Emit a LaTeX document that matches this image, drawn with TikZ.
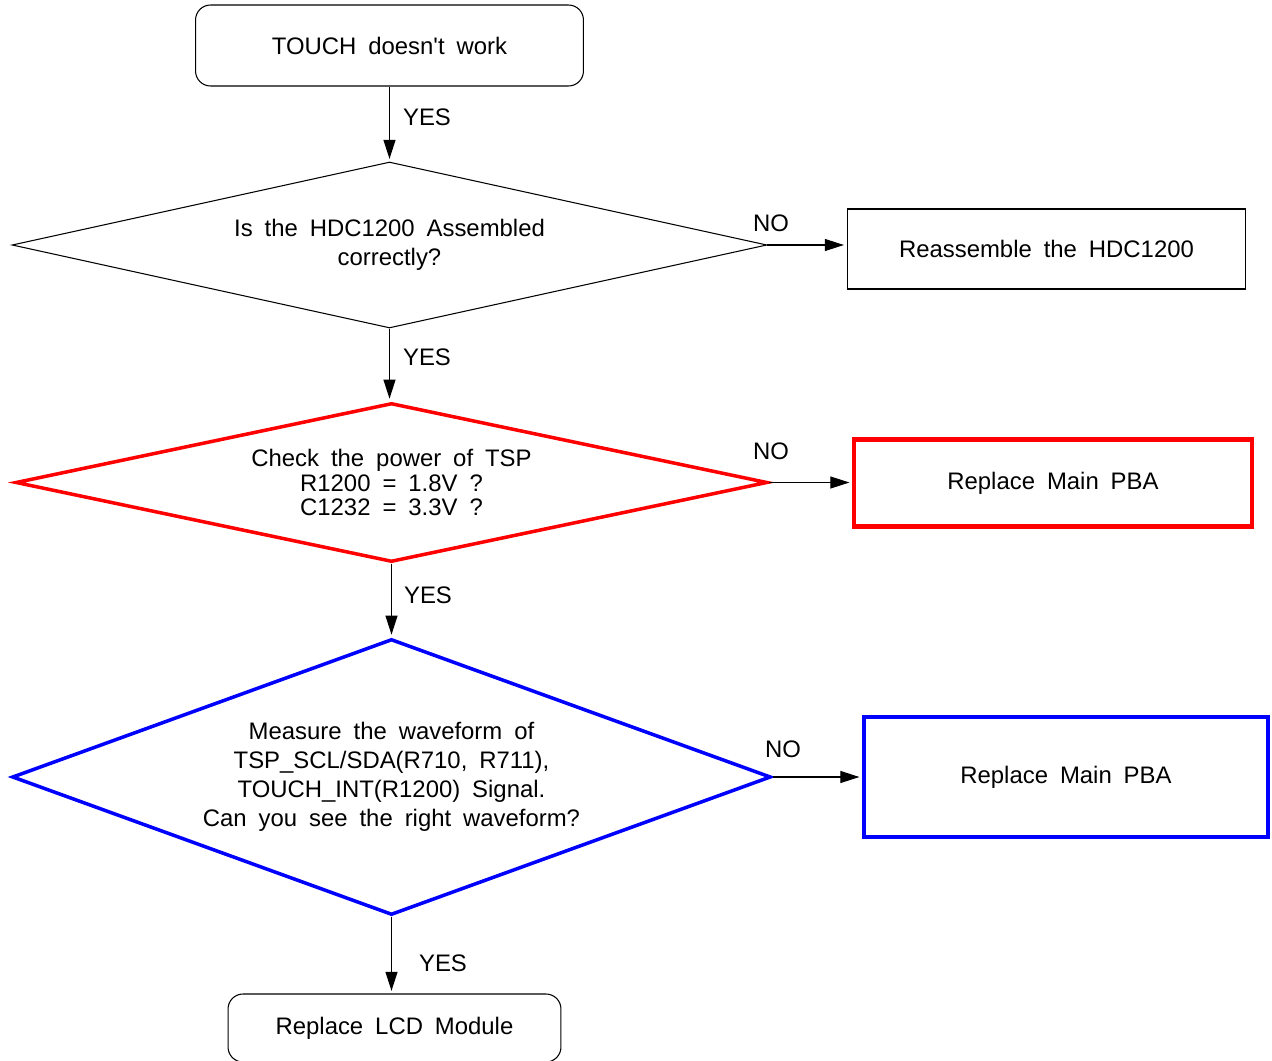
\documentclass[tikz,border=0pt]{standalone}
\usepackage{fontspec}
\setmainfont{Liberation Sans}[WordSpace=1.8]
\usetikzlibrary{arrows.meta,shapes.geometric}

\begin{document}
\begin{tikzpicture}[x=0.02cm,y=-0.02cm,>={Triangle[length=0.38cm,width=0.24cm]},
  font=\fontsize{13.6pt}{16.5pt}\selectfont,
  term/.style={draw,rounded corners=0.3cm,line width=0.6pt,inner sep=0pt},
  dec/.style={diamond,draw,align=center,inner sep=0pt,line width=0.6pt},
  act/.style={draw,inner sep=0pt,line width=0.6pt},
  ar/.style={->,line width=0.6pt,shorten >=1.5pt},
  lbl/.style={inner sep=0pt}]
\useasboundingbox (0,0) rectangle (1272,1061);
% main column
\node[term,minimum width=7.76cm,minimum height=1.62cm] (start) at (389.5,45.5) {TOUCH doesn\textquotesingle t work};
\node[dec,aspect=4.55,minimum width=15.1cm,minimum height=3.32cm] (hdc) at (389.5,245) {Is the HDC1200 Assembled\\correctly?};
\node[dec,draw=red,line width=2pt,aspect=4.73,minimum width=15.04cm,minimum height=3.18cm,
  font=\fontsize{13.6pt}{14pt}\selectfont] (pwr) at (391.5,482.5) {Check the power of TSP\\R1200 = 1.8V ?\\C1232 = 3.3V ?};
\node[dec,draw=blue,line width=2pt,aspect=2.75,minimum width=15.18cm,minimum height=5.52cm] (wave) at (391.5,777)
  {Measure the waveform of\\TSP\_SCL/SDA(R710, R711),\\TOUCH\_INT(R1200) Signal.\\Can you see the right waveform?};
\node[term,minimum width=6.66cm,minimum height=1.36cm] (lcd) at (394.5,1028) {Replace LCD Module};
% right column
\node[act,minimum width=7.98cm,minimum height=1.6cm] (reasm) at (1046.5,249) {Reassemble the HDC1200};
\node[act,draw=red,line width=2.3pt,minimum width=7.96cm,minimum height=1.74cm] (rpba) at (1053,483) {Replace Main PBA};
\node[act,draw=blue,line width=2.3pt,minimum width=8.08cm,minimum height=2.4cm] (bpba) at (1066,777) {Replace Main PBA};
% connectors
\draw[ar] (start.south) -- (hdc.north);
\draw[ar] (hdc.east) -- (hdc.east -| reasm.west);
\draw[ar] (hdc.south) -- (hdc.south |- pwr.north);
\draw[ar] (pwr.east) -- (pwr.east -| rpba.west);
\draw[ar] (pwr.south) -- (wave.north);
\draw[ar] (wave.east) -- (wave.east -| bpba.west);
\draw[ar] (wave.south) -- (wave.south |- lcd.north);
% labels
\node[lbl] (y1) at (427,117) {YES};
\node[lbl] (n1) at (771,223) {NO};
\node[lbl] (y2) at (427,357) {YES};
\node[lbl] (n2) at (771,451) {NO};
\node[lbl] (y3) at (428,595) {YES};
\node[lbl] (n3) at (783,749) {NO};
\node[lbl] (y4) at (443,963) {YES};
\end{tikzpicture}
\end{document}
